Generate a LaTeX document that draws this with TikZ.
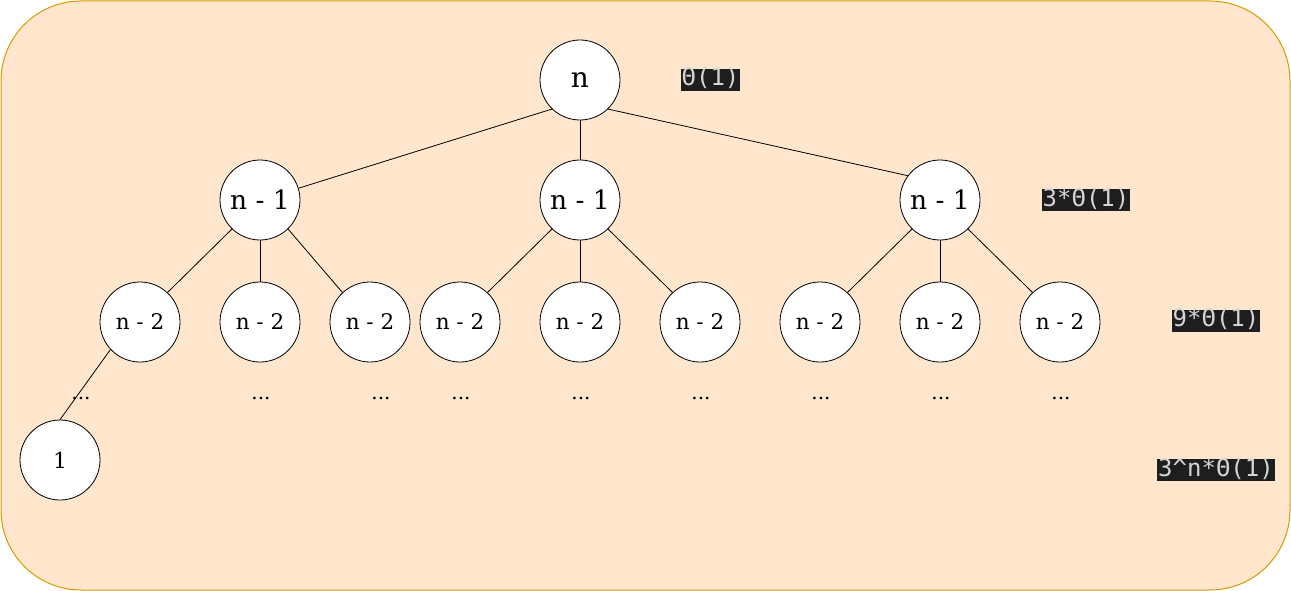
\documentclass[tikz,border=0pt]{standalone}
\usepackage{fontspec}
\setmainfont{DejaVu Serif}
\newfontfamily\codefont{DejaVu Sans Mono}
\definecolor{bgfill}{HTML}{FFE6CC}
\definecolor{bgline}{HTML}{D79B00}
\definecolor{codebg}{HTML}{1E1E1E}
\definecolor{codefg}{HTML}{D4D4D4}
\begin{document}
\begin{tikzpicture}[x=1pt,y=-1pt,
  treenode/.style={circle,draw=black,fill=white,minimum size=80pt,inner sep=0pt,line width=0.8pt},
  toptext/.style={font=\fontsize{28}{32}\selectfont},
  midtext/.style={font=\fontsize{26.5}{30}\selectfont},
  lowtext/.style={font=\fontsize{21.5}{24}\selectfont},
  leaftext/.style={font=\fontsize{22}{24}\selectfont},
  dotstext/.style={font=\fontsize{20}{22}\selectfont,inner sep=0pt},
  codelabel/.style={fill=codebg,text=codefg,font=\codefont\fontsize{24}{24}\selectfont,inner xsep=1pt,inner ysep=0pt,text height=17pt,text depth=5pt},
  edge/.style={draw=black,line width=0.8pt}]
\useasboundingbox (0,0) rectangle (1291,591);
\draw[fill=bgfill,draw=bgline,line width=1pt,rounded corners=80pt] (1,1) rectangle (1290,590);

% nodes
\node[treenode,toptext] (r) at (580,80) {n};
\node[treenode,midtext] (a) at (260,200) {n - 1};
\node[treenode,midtext] (b) at (580,200) {n - 1};
\node[treenode,midtext] (c) at (940,200) {n - 1};

\node[treenode,lowtext] (a1) at (140,322) {n - 2};
\node[treenode,lowtext] (a2) at (260,322) {n - 2};
\node[treenode,lowtext] (a3) at (370,322) {n - 2};
\node[treenode,lowtext] (b1) at (460,322) {n - 2};
\node[treenode,lowtext] (b2) at (580,322) {n - 2};
\node[treenode,lowtext] (b3) at (700,322) {n - 2};
\node[treenode,lowtext] (c1) at (820,322) {n - 2};
\node[treenode,lowtext] (c2) at (940,322) {n - 2};
\node[treenode,lowtext] (c3) at (1060,322) {n - 2};

\node[treenode,leaftext] (one) at (60,460) {1};

% edges
\draw[edge] (r.226) -- (a.17);
\draw[edge] (r.south) -- (b.north);
\draw[edge] (r.314) -- (c.143);

\draw[edge] (a.226) -- (a1.47);
\draw[edge] (a.south) -- (a2.north);
\draw[edge] (a.314) -- (a3.133);
\draw[edge] (b.226) -- (b1.47);
\draw[edge] (b.south) -- (b2.north);
\draw[edge] (b.314) -- (b3.133);
\draw[edge] (c.226) -- (c1.47);
\draw[edge] (c.south) -- (c2.north);
\draw[edge] (c.314) -- (c3.133);

\draw[edge] (a1.223) -- (one.north);

% dots
\node[dotstext] (d1) at (81,398) {...};
\node[dotstext] (d2) at (261,398) {...};
\node[dotstext] (d3) at (381,398) {...};
\node[dotstext] (d4) at (461,398) {...};
\node[dotstext] (d5) at (581,398) {...};
\node[dotstext] (d6) at (701,398) {...};
\node[dotstext] (d7) at (821,398) {...};
\node[dotstext] (d8) at (941,398) {...};
\node[dotstext] (d9) at (1061,398) {...};

% cost labels
\node[codelabel] (l0) at (710.5,80) {Θ(1)};
\node[codelabel] (l1) at (1086,200) {3*Θ(1)};
\node[codelabel] (l2) at (1216,320.5) {9*Θ(1)};
\node[codelabel] (l3) at (1216,470) {3\textasciicircum n*Θ(1)};
\end{tikzpicture}
\end{document}
